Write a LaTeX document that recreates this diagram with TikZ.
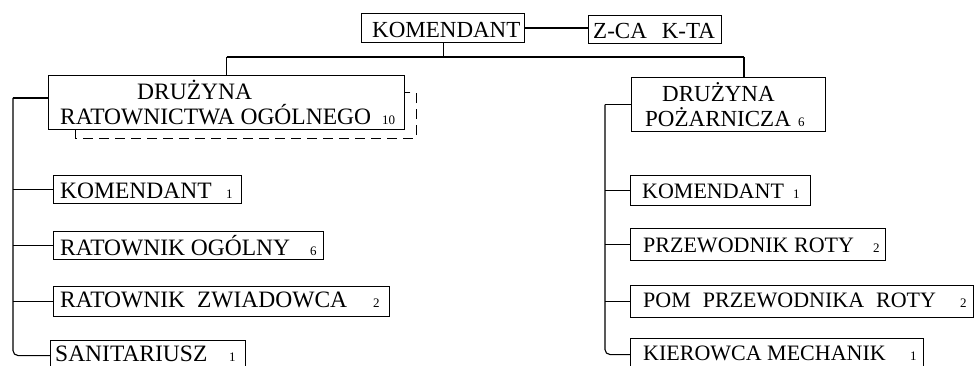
\documentclass[tikz,border=0pt]{standalone}
\usepackage{fontspec}
\setmainfont{Liberation Serif}
\usetikzlibrary{calc}
\newcommand\bigf{\fontsize{23}{25}\selectfont}
\newcommand\lftf{\fontsize{23.5}{25}\selectfont}
\newcommand\midf{\fontsize{22}{25}\selectfont}
\newcommand\numf{\fontsize{13}{13}\selectfont}
\begin{document}
\begin{tikzpicture}[x=1pt,y=-1pt,
  box/.style={draw,line width=1.1pt,inner sep=0pt,anchor=north west},
  txt/.style={anchor=base west,inner sep=0pt,text depth=0pt,font=\bigf},
  txtl/.style={txt,font=\lftf},
  txtr/.style={txt,font=\midf},
  conn/.style={line width=1.1pt}]
\fill[white] (0,0) rectangle (975,366);
\useasboundingbox (0,0) rectangle (975,366);

% boxes
\node[box,minimum width=163pt,minimum height=29pt] (kom) at (361,13) {};
\node[box,minimum width=133pt,minimum height=28pt] (zca) at (588,15) {};
\node[box,minimum width=356pt,minimum height=54pt] (dro) at (48,75) {};
\node[box,minimum width=194pt,minimum height=54pt] (drp) at (631,77) {};
\node[box,minimum width=188pt,minimum height=28pt] (k1L) at (53,175) {};
\node[box,minimum width=270pt,minimum height=28pt] (roL) at (53,231) {};
\node[box,minimum width=336pt,minimum height=30pt] (rzL) at (53,286) {};
\node[box,minimum width=195pt,minimum height=30pt] (saL) at (50,340) {};
\node[box,minimum width=180pt,minimum height=30pt] (k1R) at (630,175) {};
\node[box,minimum width=255pt,minimum height=32pt] (prR) at (630,228) {};
\node[box,minimum width=343pt,minimum height=32pt] (pomR) at (630,285) {};
\node[box,minimum width=293pt,minimum height=32pt] (kmR) at (630,338) {};

% texts
\node[txt] (tkom) at (372,38) {KOMENDANT};
\node[txt] (tzca) at (593,39) {Z-CA\hspace{15pt}K-TA};
\node[txtl] (tdro1) at (137,100) {DRUŻYNA};
\node[txtl] (tdro2) at (60,125) {\makebox[322pt][l]{RATOWNICTWA OGÓLNEGO}{\numf 10}};
\node[txt] (tdrp1) at (662,102) {DRUŻYNA};
\node[txt] (tdrp2) at (645,127) {\makebox[153pt][l]{POŻARNICZA}{\numf 6}};
\node[txtl] (tk1L) at (60,199) {\makebox[166pt][l]{KOMENDANT}{\numf 1}};
\node[txtl] (troL) at (60,255) {\makebox[250pt][l]{RATOWNIK OGÓLNY}{\numf 6}};
\node[txtl] (trzL) at (60,307) {\makebox[313pt][l]{RATOWNIK\hspace{12pt}ZWIADOWCA}{\numf 2}};
\node[txtl] (tsaL) at (55,361) {\makebox[174pt][l]{SANITARIUSZ}{\numf 1}};
\node[txtr] (tk1R) at (642,199) {\makebox[151pt][l]{KOMENDANT}{\numf 1}};
\node[txtr] (tprR) at (643,253) {\makebox[230pt][l]{PRZEWODNIK ROTY}{\numf 2}};
\node[txtr] (tpomR) at (643,307) {\makebox[317pt][l]{POM\hspace{12pt}PRZEWODNIKA\hspace{12pt}ROTY}{\numf 2}};
\node[txtr] (tkmR) at (643,360) {\makebox[267pt][l]{KIEROWCA MECHANIK}{\numf 1}};

% top connectors
\coordinate (bus) at (0,57);
\coordinate (busR) at (744,57);
\draw[conn] (kom.east) -- (kom.east -| zca.west);
\draw[conn] (kom.south) -- (kom.south |- bus);
\draw[conn] (dro.north |- bus) -- (busR);
\draw[conn] (dro.north |- bus) -- (dro.north);
\draw[conn] (busR) -- (busR |- drp.north);

% left trunk
\coordinate (lt) at (13,98);
\draw[conn] (dro.west |- lt) -- (lt);
\draw[conn,rounded corners=5pt] (lt) |- (saL.west);
\foreach \n in {k1L,roL,rzL} \draw[conn] (\n.west) -- (\n.west -| lt);

% right trunk
\coordinate (rt) at (605,104);
\draw[conn] (drp.west) -- (drp.west -| rt);
\draw[conn,rounded corners=5pt] (drp.west -| rt) |- (kmR.west);
\foreach \n in {k1R,prR,pomR} \draw[conn] (\n.west) -- (\n.west -| rt);

% dashed outline
\draw[line width=1pt,dash pattern=on 10pt off 6pt]
  ($(dro.south west)+(27,0)$) -- ++(0,8) -| ($(dro.north east)+(11,18)$) -- ($(dro.north east)+(0,18)$);
\end{tikzpicture}
\end{document}
